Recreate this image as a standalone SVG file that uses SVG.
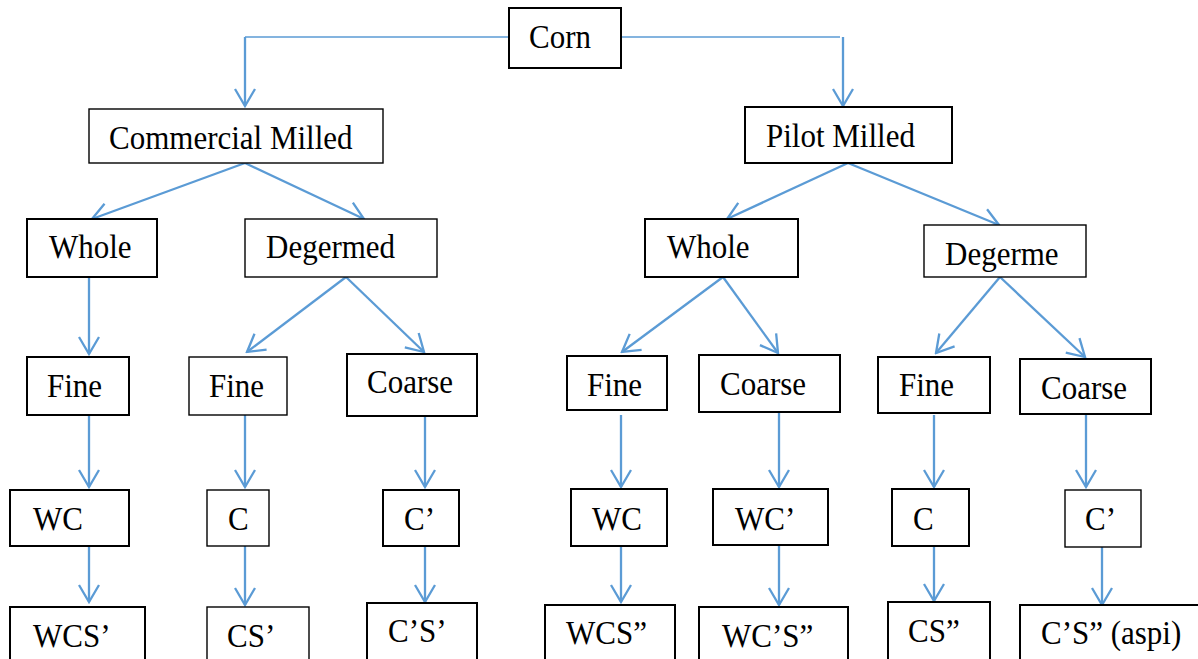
<svg xmlns="http://www.w3.org/2000/svg" width="1198" height="659" viewBox="0 0 1198 659">
<style>
.box{fill:#fff;stroke:#000;stroke-width:2}
.thin{stroke-width:1.4}
.lbl{font-family:"Liberation Serif","Times New Roman",serif;font-size:31px;fill:#000}
.con{fill:none;stroke:#5b9bd5;stroke-width:2.3}
</style>
<defs>
<marker id="ah" markerUnits="userSpaceOnUse" viewBox="-20 -12 22 24" refX="0" refY="0" markerWidth="22" markerHeight="24" orient="auto">
<path d="M-17,-10 L0,0 L-17,10" fill="none" stroke="#5b9bd5" stroke-width="2.3"/>
</marker>
</defs>
<rect width="1198" height="659" fill="#fff"/>
<g id="connectors">
<path class="con" style="stroke-width:1.4" d="M509,37 H245"/>
<path class="con" d="M245,37 V106" marker-end="url(#ah)"/>
<path class="con" style="stroke-width:1.4" d="M621,37 H840"/>
<path class="con" d="M843,37 V106" marker-end="url(#ah)"/>
<path class="con" d="M245,163 L92,219" marker-end="url(#ah)"/>
<path class="con" d="M245,163 L364,219" marker-end="url(#ah)"/>
<path class="con" d="M848,163 L727,219" marker-end="url(#ah)"/>
<path class="con" d="M848,163 L999,225" marker-end="url(#ah)"/>
<path class="con" d="M89,277 V354" marker-end="url(#ah)"/>
<path class="con" d="M346,277 L247,352" marker-end="url(#ah)"/>
<path class="con" d="M346,277 L424,352" marker-end="url(#ah)"/>
<path class="con" d="M723,277 L622,352" marker-end="url(#ah)"/>
<path class="con" d="M723,277 L778,353" marker-end="url(#ah)"/>
<path class="con" d="M1000,277 L936,353" marker-end="url(#ah)"/>
<path class="con" d="M1000,277 L1085,357" marker-end="url(#ah)"/>
<path class="con" d="M89,415 V487" marker-end="url(#ah)"/>
<path class="con" d="M245,415 V487" marker-end="url(#ah)"/>
<path class="con" d="M425,416 V487" marker-end="url(#ah)"/>
<path class="con" d="M621,415 V487" marker-end="url(#ah)"/>
<path class="con" d="M779,413 V487" marker-end="url(#ah)"/>
<path class="con" d="M934,415 V487" marker-end="url(#ah)"/>
<path class="con" d="M1086,415 V487" marker-end="url(#ah)"/>
<path class="con" d="M89,546 V602" marker-end="url(#ah)"/>
<path class="con" d="M245,546 V605" marker-end="url(#ah)"/>
<path class="con" d="M425,546 V602" marker-end="url(#ah)"/>
<path class="con" d="M621,546 V602" marker-end="url(#ah)"/>
<path class="con" d="M779,545 V605" marker-end="url(#ah)"/>
<path class="con" d="M934,546 V601" marker-end="url(#ah)"/>
<path class="con" d="M1102,547 V605" marker-end="url(#ah)"/>
</g>
<g id="corn"><rect class="box" x="509" y="8" width="112" height="60"/><text class="lbl" transform="translate(529,48) scale(1,1.07)">Corn</text></g>
<g id="commercial"><rect class="box thin" x="89" y="109" width="294" height="54"/><text class="lbl" transform="translate(109,149) scale(1,1.07)">Commercial Milled</text></g>
<g id="pilot"><rect class="box" x="745" y="107" width="207" height="56"/><text class="lbl" transform="translate(766,147) scale(1,1.07)">Pilot Milled</text></g>
<g id="whole1"><rect class="box" x="27" y="219" width="130" height="58"/><text class="lbl" transform="translate(49,258) scale(1,1.07)">Whole</text></g>
<g id="degermed1"><rect class="box thin" x="245" y="219" width="192" height="58"/><text class="lbl" transform="translate(266,258) scale(1,1.07)">Degermed</text></g>
<g id="whole2"><rect class="box" x="645" y="219" width="153" height="58"/><text class="lbl" transform="translate(667,258) scale(1,1.07)">Whole</text></g>
<g id="degerme2"><rect class="box thin" x="924" y="225" width="162" height="52"/><text class="lbl" transform="translate(945,265) scale(1,1.07)">Degerme</text></g>
<g id="fine1"><rect class="box" x="27" y="357" width="102" height="58"/><text class="lbl" transform="translate(47,397) scale(1,1.07)">Fine</text></g>
<g id="fine2"><rect class="box thin" x="189" y="357" width="98" height="58"/><text class="lbl" transform="translate(209,397) scale(1,1.07)">Fine</text></g>
<g id="coarse3"><rect class="box" x="347" y="354" width="130" height="62"/><text class="lbl" transform="translate(367,393) scale(1,1.07)">Coarse</text></g>
<g id="fine4"><rect class="box" x="567" y="356" width="100" height="54"/><text class="lbl" transform="translate(587,396) scale(1,1.07)">Fine</text></g>
<g id="coarse5"><rect class="box" x="699" y="355" width="141" height="57"/><text class="lbl" transform="translate(720,395) scale(1,1.07)">Coarse</text></g>
<g id="fine6"><rect class="box" x="878" y="357" width="112" height="56"/><text class="lbl" transform="translate(899,396) scale(1,1.07)">Fine</text></g>
<g id="coarse7"><rect class="box" x="1020" y="359" width="131" height="55"/><text class="lbl" transform="translate(1041,399) scale(1,1.07)">Coarse</text></g>
<g id="wc1"><rect class="box" x="10" y="490" width="119" height="56"/><text class="lbl" transform="translate(33,530) scale(1,1.07)">WC</text></g>
<g id="c2"><rect class="box thin" x="207" y="490" width="62" height="56"/><text class="lbl" transform="translate(228,530) scale(1,1.07)">C</text></g>
<g id="cp3"><rect class="box" x="383" y="490" width="76" height="56"/><text class="lbl" transform="translate(404,530) scale(1,1.07)">C’</text></g>
<g id="wc4"><rect class="box" x="571" y="489" width="96" height="57"/><text class="lbl" transform="translate(592,530) scale(1,1.07)">WC</text></g>
<g id="wcp5"><rect class="box" x="713" y="489" width="115" height="56"/><text class="lbl" transform="translate(735,530) scale(1,1.07)">WC’</text></g>
<g id="c6"><rect class="box" x="892" y="489" width="77" height="57"/><text class="lbl" transform="translate(913,530) scale(1,1.07)">C</text></g>
<g id="cp7"><rect class="box thin" x="1065" y="490" width="76" height="57"/><text class="lbl" transform="translate(1085,530) scale(1,1.07)">C’</text></g>
<g id="wcs1"><rect class="box" x="10" y="607" width="135" height="70"/><text class="lbl" transform="translate(33,647) scale(1,1.07)">WCS’</text></g>
<g id="cs2"><rect class="box thin" x="207" y="607" width="102" height="70"/><text class="lbl" transform="translate(227,647) scale(1,1.07)">CS’</text></g>
<g id="cpsp3"><rect class="box" x="367" y="603" width="110" height="74"/><text class="lbl" transform="translate(388,642) scale(1,1.07)">C’S’</text></g>
<g id="wcs4"><rect class="box" x="545" y="605" width="130" height="72"/><text class="lbl" transform="translate(566,644) scale(1,1.07)">WCS”</text></g>
<g id="wcps5"><rect class="box" x="699" y="607" width="149" height="70"/><text class="lbl" transform="translate(722,647) scale(1,1.07)">WC’S”</text></g>
<g id="cs6"><rect class="box" x="888" y="602" width="102" height="75"/><text class="lbl" transform="translate(908,642) scale(1,1.07)">CS”</text></g>
<g id="cps7"><rect class="box" x="1020" y="605" width="180" height="72"/><text class="lbl" transform="translate(1041,644) scale(1,1.07)">C’S” (aspi)</text></g>
</svg>
